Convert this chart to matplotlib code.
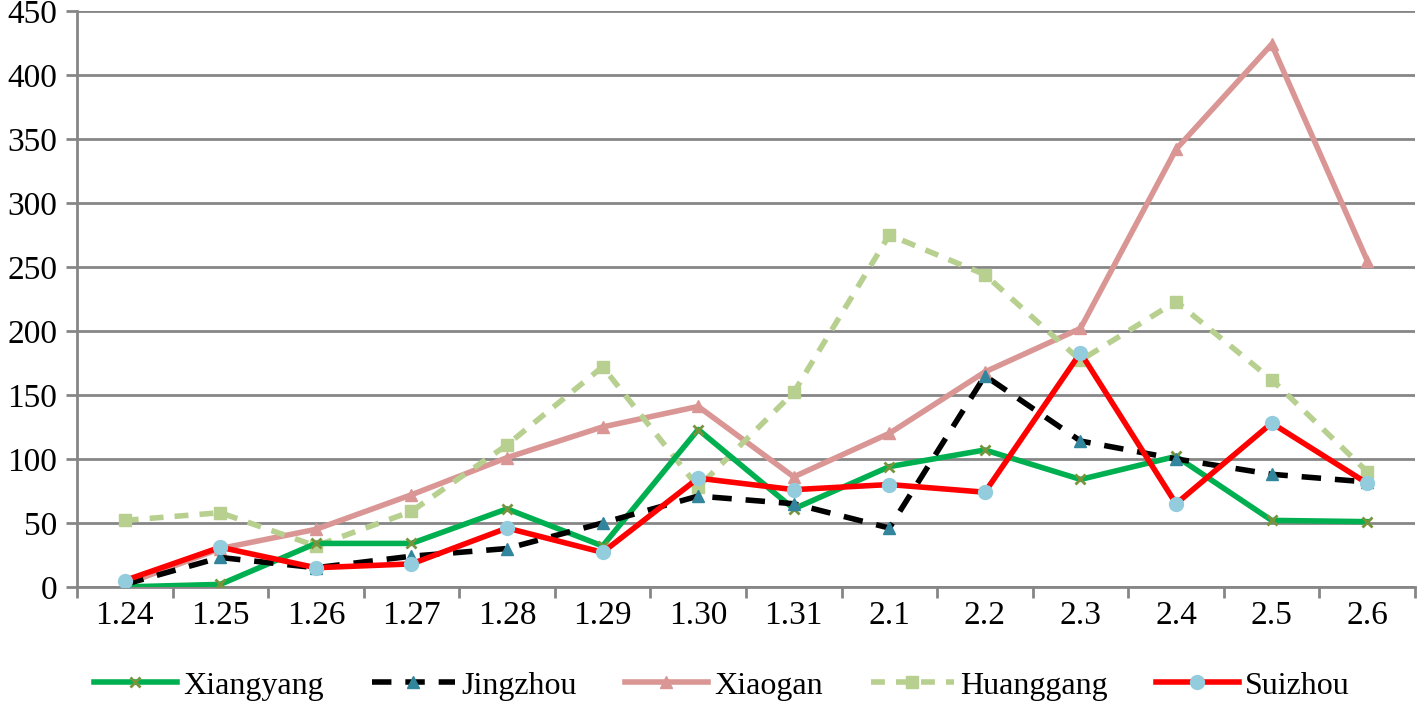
import matplotlib.pyplot as plt
import numpy as np

dates = ["1.24", "1.25", "1.26", "1.27", "1.28", "1.29", "1.30", "1.31",
         "2.1", "2.2", "2.3", "2.4", "2.5", "2.6"]
xiangyang = [0, 2, 34, 34, 61, 32, 123, 61, 94, 107, 84, 102, 52, 51]
jingzhou = [2, 23, 15, 24, 30, 50, 71, 65, 46, 165, 114, 100, 88, 82]
xiaogan = [2, 30, 45, 72, 101, 125, 141, 86, 120, 168, 202, 342, 424, 255]
huanggang = [52, 58, 32, 59, 111, 172, 78, 152, 275, 244, 177, 223, 162, 90]
suizhou = [5, 31, 15, 18, 46, 27, 85, 76, 80, 74, 183, 65, 128, 81]

plt.rcParams['font.family'] = ['Liberation Serif', 'DejaVu Serif']

fig = plt.figure(figsize=(14.17, 7.08), dpi=100)
ax = fig.add_axes([0.0543, 0.171, 0.9443, 0.8135])

x = np.arange(len(dates))
lw = 4

ax.plot(x, xiangyang, color="#00B050", lw=lw, marker="x", ms=7, mew=2,
        mec="#77933C", label="Xiangyang", zorder=3)
ax.plot(x, jingzhou, color="black", lw=lw, ls=(0, (3.5, 2.5)), marker="^", ms=9,
        mfc="#31859C", mec="#31859C", label="Jingzhou", zorder=3)
ax.plot(x, xiaogan, color="#D99694", lw=lw, marker="^", ms=9,
        mfc="#D99694", mec="#D99694", label="Xiaogan", zorder=2)
ax.plot(x, huanggang, color="#B8D08F", lw=lw, ls=(0, (2.5, 2)), marker="s", ms=9,
        mfc="#B8D08F", mec="#B8D08F", label="Huanggang", zorder=2)
ax.plot(x, suizhou, color="#FF0000", lw=lw, marker="o", ms=10,
        mfc="#93CDDD", mec="#93CDDD", label="Suizhou", zorder=4)

ax.set_xlim(-0.5, len(dates) - 0.5)
ax.set_ylim(0, 450)
ax.set_yticks(np.arange(0, 451, 50))
ax.set_xticks(x)
ax.set_xticklabels(dates)
ax.set_xticks(np.arange(-0.5, len(dates), 1), minor=True)
ax.tick_params(axis="x", which="major", length=0, pad=10, labelsize=24)
ax.tick_params(axis="x", which="minor", length=8, width=2, color="#868686", direction="out")
ax.tick_params(axis="y", length=8, width=2, color="#868686", labelsize=24, pad=6)

ax.grid(axis="y", color="#868686", lw=2)
ax.set_axisbelow(True)
for side in ["top", "right"]:
    ax.spines[side].set_visible(False)
for side in ["left", "bottom"]:
    ax.spines[side].set_color("#868686")
    ax.spines[side].set_linewidth(2)

ax.legend(loc="center", bbox_to_anchor=(0.482, -0.172), ncol=5, frameon=False,
          fontsize=23, handlelength=2.6, columnspacing=1.5, handletextpad=0.2,
          borderaxespad=0, borderpad=0.1)

fig.savefig("out.png", dpi=100)
